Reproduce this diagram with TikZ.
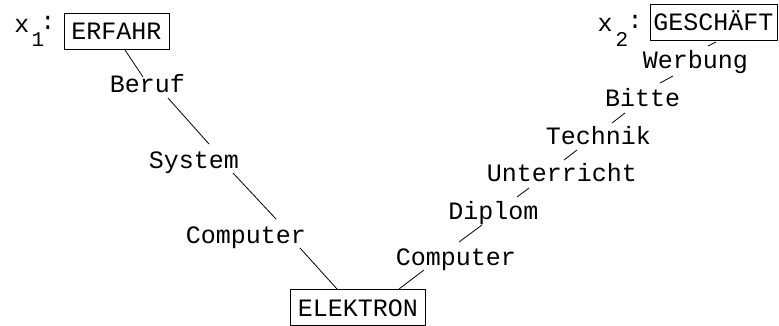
\documentclass[tikz,border=0pt]{standalone}
\usepackage{fontspec}
\setmainfont{Liberation Mono}
\begin{document}
\begin{tikzpicture}[x=1pt,y=-1pt,
  every node/.style={font=\fontsize{25}{30}\selectfont, inner sep=0pt},
  word/.style={anchor=base},
  term/.style={draw, line width=0.8pt, anchor=base, inner xsep=7.5pt, inner ysep=0pt,
               text height=27pt, text depth=9pt},
  sub/.style={font=\fontsize{21}{25}\selectfont, anchor=base},
  link/.style={line width=0.8pt}]
\useasboundingbox (0,0) rectangle (779,326);

% first term and its chain of related words
\node[anchor=base] (x1)  at (22,33) {x};
\node[sub] (x1s) at (38,47) {1};
\node[anchor=base] (x1c) at (48,30) {:};
\node[term] (erfahr) at (116.5,40) {ERFAHR};
\node[word] (beruf)  at (147.5,93)  {Beruf};
\node[word] (system) at (194,168)   {System};
\node[word] (compL)  at (246,243)   {Computer};

% shared term at the bottom
\node[term] (elektron) at (358,316) {ELEKTRON};

% second term and its chain
\node[anchor=base] (x2)  at (605,32) {x};
\node[sub] (x2s) at (622,47) {2};
\node[anchor=base] (x2c) at (635,29) {:};
\node[term, inner xsep=3.5pt] (geschaeft) at (713.5,31) {GESCHÄFT};
\node[word] (werbung)    at (695.5,69) {Werbung};
\node[word] (bitte)      at (642.5,107) {Bitte};
\node[word] (technik)    at (598.5,145) {Technik};
\node[word] (unterricht) at (562,182)   {Unterricht};
\node[word] (diplom)     at (493.5,219) {Diplom};
\node[word] (compR)      at (456,265)   {Computer};

% connectors
\draw[link] ([shift={(8.5,10)}]erfahr.base) -- ([shift={(-4.5,-16)}]beruf.base);
\draw[link] ([shift={(20.5,5)}]beruf.base) -- ([shift={(15,-24)}]system.base);
\draw[link] ([shift={(39,5)}]system.base) -- ([shift={(30,-24)}]compL.base);
\draw[link] ([shift={(54,5)}]compL.base) -- ([shift={(-21,-27)}]elektron.base);
\draw[link] ([shift={(41,-27)}]elektron.base) -- ([shift={(-32,5)}]compR.base);
\draw[link] ([shift={(3,-23)}]compR.base) -- ([shift={(-11.5,6)}]diplom.base);
\draw[link] ([shift={(23.5,-22)}]diplom.base) -- ([shift={(-33,6)}]unterricht.base);
\draw[link] ([shift={(2,-22)}]unterricht.base) -- ([shift={(-21.5,5)}]technik.base);
\draw[link] ([shift={(13.5,-22)}]technik.base) -- ([shift={(-17.5,6)}]bitte.base);
\draw[link] ([shift={(17.5,-24)}]bitte.base) -- ([shift={(-22.5,7)}]werbung.base);
\draw[link] ([shift={(12.5,-23)}]werbung.base) -- ([shift={(2.5,11)}]geschaeft.base);
\end{tikzpicture}
\end{document}
